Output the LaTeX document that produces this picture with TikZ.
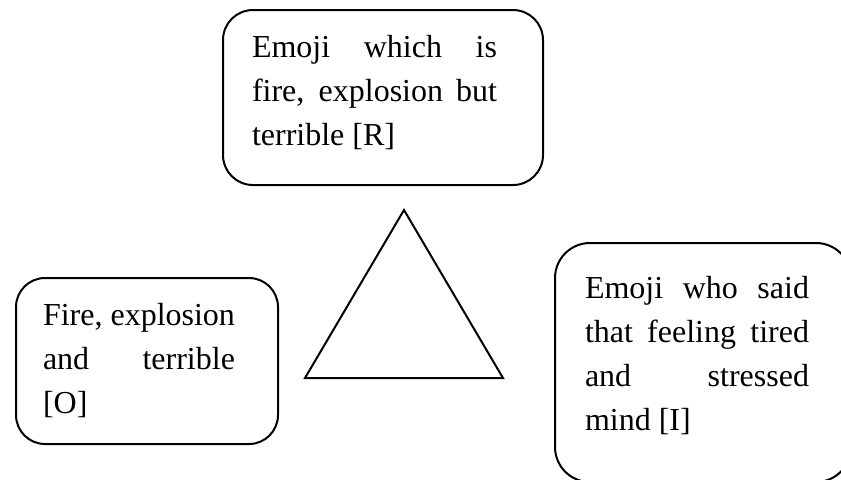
\documentclass[tikz,border=0pt]{standalone}
\usepackage{fontspec}
\setmainfont{Liberation Serif}
\newcommand{\Parrafo}[3]{\parbox[t]{#1}{#3}\rule{#2}{0pt}}
\tikzstyle{CajaEmoji}=[rectangle, draw=black, line width=1pt, text height=11pt, font={\fontsize{16pt}{22pt}\selectfont\hyphenpenalty=10000 \tolerance=10000 }]
\tikzstyle{Triangulo}=[draw=black, line width=1pt, line join=miter]

\begin{document}
\begin{tikzpicture}[x=0.5pt, y=-0.5pt]
	\useasboundingbox (0,0) rectangle (841,479);
	\clip (0,0) rectangle (841,479);

	%Nodos
	\node[CajaEmoji, rounded corners=15pt, inner xsep=14.5pt, inner ysep=12.75pt, text depth=51pt]
		(representamen) at (383,97.5) {\Parrafo{122.5pt}{8.5pt}{Emoji which is\linebreak fire, explosion but\linebreak terrible [R]}};
	\node[CajaEmoji, rounded corners=14.5pt, inner xsep=13.5pt, inner ysep=12.5pt, text depth=47pt]
		(objeto) at (147,361) {\Parrafo{96pt}{8pt}{Fire, explosion\linebreak and terrible\linebreak{}[O]}};
	\node[CajaEmoji, rounded corners=17.5pt, inner xsep=15pt, inner ysep=16.5pt, text depth=75.5pt]
		(interpretante) at (703,362.5) {\Parrafo{112pt}{6pt}{Emoji who said\linebreak that feeling tired\linebreak and stressed\linebreak mind [I]}};

	%Triangulo
	\coordinate (vertice) at (404,210);
	\coordinate (baseizq) at (305,378);
	\coordinate (baseder) at (503,378);
	\draw[Triangulo] (vertice) -- (baseizq) -- (baseder) -- cycle;

\end{tikzpicture}
\end{document}
